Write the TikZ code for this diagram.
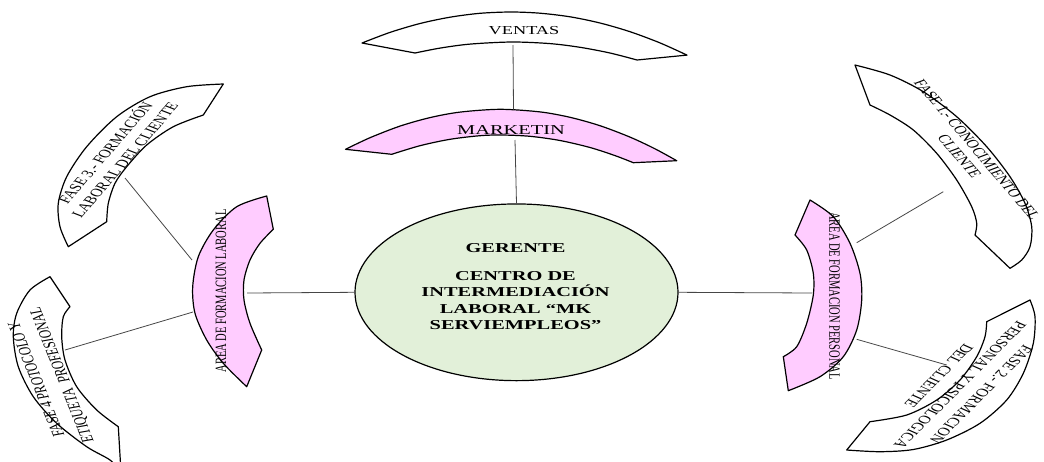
\documentclass[tikz,border=0pt]{standalone}
\usepackage{fontspec}
\setmainfont{Liberation Serif}
\usetikzlibrary{shapes.geometric}
\definecolor{pinkc}{RGB}{255,204,255}
\definecolor{greenc}{RGB}{226,240,217}
\definecolor{linec}{RGB}{70,70,70}
\tikzset{
  shp/.style={draw=black, line width=1.2pt, line join=round},
  pinkshp/.style={shp, fill=pinkc},
  whiteshp/.style={shp, fill=white},
  conn/.style={draw=linec, line width=0.8pt},
  txt/.style={inner sep=0pt, xscale=1.5},
  gtxt/.style={txt, anchor=base, font=\fontsize{13.6}{16.5}\selectfont\bfseries},
  fasetxt/.style={txt, align=center},
}
\begin{document}
\begin{tikzpicture}[x=1pt,y=-1pt]
\useasboundingbox (0,0) rectangle (1044,461);

% VENTAS
\draw[whiteshp] plot[smooth] coordinates {(362,43) (390,32.4) (420,23.5) (450,17.2) (480,13.3) (511,12) (540,13.2) (570,16.8) (600,23.0) (630,31.7) (660,42.9) (687,55.1)}
  -- plot[smooth] coordinates {(637,60) (610,53) (580,47.3) (550,43.6) (512,42) (470,44.1) (440,48.1) (415,53)} -- cycle;
\node[shift={(524,34.3)}, txt, anchor=base, font=\fontsize{12.2}{14}\selectfont] (tv) at (0,0) {VENTAS};

% MARKETIN
\draw[pinkshp] plot[smooth] coordinates {(345.5,149.3) (370,137.7) (400,126.1) (430,117.6) (460,112.1) (500,109.3) (540,111.9) (570,117.3) (600,125.7) (630,137.1) (655,148.8) (676.7,160.7)}
  -- plot[smooth] coordinates {(633.3,162.7) (615,155.6) (590,147.5) (560,140.5) (530,136.3) (501.6,135) (480,135.7) (450,139.3) (420,145.7) (391.7,154.3)} -- cycle;
\node[shift={(511,134)}, txt, anchor=base, font=\fontsize{13.6}{16}\selectfont] (tm) at (0,0) {MARKETIN};

% AREA DE FORMACION LABORAL
\draw[pinkshp] plot[smooth] coordinates {(266.7,196) (236.7,206.7) (213.3,230) (198.3,256.7) (192.7,286.7) (195,313.3) (206.7,340) (223.3,363.3) (246.7,386.7)}
  -- plot[smooth] coordinates {(261.7,350) (250,323.3) (244,300) (244,280) (250,260) (260,243.3) (273.3,229.3)} -- cycle;
\node[shift={(221,291)}, txt, rotate=90, font=\fontsize{10.5}{12}\selectfont] (tl) at (0,0) {AREA DE FORMACION LABORAL};

% AREA DE FORMACION PERSONAL
\draw[pinkshp] plot[smooth] coordinates {(810,200) (833.3,216.7) (850,243.3) (860,273.3) (861.7,300) (856.7,330) (843.3,356.7) (820,376.7) (788.3,390.7)}
  -- plot[smooth] coordinates {(783.3,356.7) (796.7,346.7) (806.7,323.3) (813.3,295) (813.3,273.3) (806.7,250) (795,235)} -- cycle;
\node[shift={(834.5,296)}, txt, rotate=-90, font=\fontsize{10.5}{12}\selectfont] (tp) at (0,0) {AREA DE FORMACION PERSONAL};

% FASE 3
\draw[whiteshp] plot[smooth] coordinates {(223.3,84) (186.7,86.7) (150,96.7) (116.7,116.7) (86.7,146.7) (66.7,176.7) (58.3,203.3) (60,226.7) (68.3,246.7)}
  -- plot[smooth] coordinates {(106.7,221.7) (108.3,203.3) (115,183.3) (126.7,166.7) (146.7,145) (173.3,126.7) (203.3,115)} -- cycle;
\node[shift={(114,156)}, fasetxt, rotate=60, font=\fontsize{11.5}{14.9}\selectfont] (t3) at (0,0) {FASE 3.- FORMACIÓN\\LABORAL DEL CLIENTE};

% FASE 4
\draw[whiteshp] plot[smooth] coordinates {(50,276.7) (30,290) (16.7,313.3) (13.3,336.7) (18.3,366.7) (33.3,396.7) (56.7,423.3) (86.7,446.7) (110,460) (121,472)}
  -- plot[smooth] coordinates {(118.3,426.7) (96.7,410) (76.7,386.7) (65,360) (61.7,336.7) (63.3,316.7) (70,306.7)} -- cycle;
\node[shift={(50,377)}, fasetxt, rotate=105, font=\fontsize{11.5}{17.5}\selectfont] (t4) at (0,0) {FASE 4 PROTOCOLO Y\\ETIQUETA\ \ PROFESIONAL};

% FASE 1
\draw[whiteshp] plot[smooth] coordinates {(855,65) (890,75) (923.3,91.7) (956.7,116.7) (986.7,146.7) (1010,176.7) (1025,203.3) (1031.7,226.7) (1030,246.7) (1021.7,260) (1010,268.3)}
  -- plot[smooth] coordinates {(975,235) (976.7,223.3) (971.7,206.7) (956.7,180) (936.7,153.3) (913.3,130) (890,115) (870,105)} -- cycle;
\node[shift={(968.3,153)}, fasetxt, rotate=-60.5, font=\fontsize{11.5}{13.5}\selectfont] (t1) at (0,0) {FASE 1.- CONOCIMIENTO DEL\\CLIENTE};

% FASE 2
\draw[whiteshp] plot[smooth] coordinates {(1030,300) (1035,316.7) (1033.3,343.3) (1023.3,373.3) (1006.7,400) (980,423.3) (946.7,440) (913.3,449.5) (880,451.7) (846.7,450)}
  -- plot[smooth] coordinates {(870,421.7) (906.7,415) (936.7,400) (960,380) (976.7,356.7) (985,336.7) (986.7,321.7)} -- cycle;
\node[shift={(960,385)}, fasetxt, rotate=-123.7, font=\fontsize{11.5}{17}\selectfont] (t2) at (0,0) {FASE 2.- FORMACION\\PERSONAL Y PSICOLOGICA\\DEL CLIENTE};

% GERENTE
\node[ellipse, draw=black, line width=1.2pt, fill=greenc, minimum width=323pt, minimum height=176.7pt, inner sep=0pt] (ger) at (516.5,292.3) {};
\node[shift={(515.5,252.7)}, gtxt] (g1) at (0,0) {GERENTE};
\node[shift={(515.5,280)}, gtxt] (g2) at (0,0) {CENTRO DE};
\node[shift={(515.5,296.7)}, gtxt] (g3) at (0,0) {INTERMEDIACIÓN};
\node[shift={(515.5,313.3)}, gtxt] (g4) at (0,0) {LABORAL “MK};
\node[shift={(515.5,329.3)}, gtxt] (g5) at (0,0) {SERVIEMPLEOS”};

% connector end points
\coordinate (vb) at (513,45);
\coordinate (mt) at (513.5,109.5);
\coordinate (mb) at (515,140);
\coordinate (lr) at (247,293);
\coordinate (pl) at (812,293);
\coordinate (la) at (192,260);
\coordinate (f3) at (125,178);
\coordinate (lb) at (193,312);
\coordinate (f4) at (65,350);
\coordinate (pa) at (856.7,242.7);
\coordinate (f1) at (943.3,191.7);
\coordinate (pb) at (856.7,339.3);
\coordinate (f2) at (946.7,365);

\draw[conn] (vb) -- (mt);
\draw[conn] (mb) -- (ger.north);
\draw[conn] (lr) -- (ger.west);
\draw[conn] (pl) -- (ger.east);
\draw[conn] (la) -- (f3);
\draw[conn] (lb) -- (f4);
\draw[conn] (pa) -- (f1);
\draw[conn] (pb) -- (f2);
\end{tikzpicture}
\end{document}
